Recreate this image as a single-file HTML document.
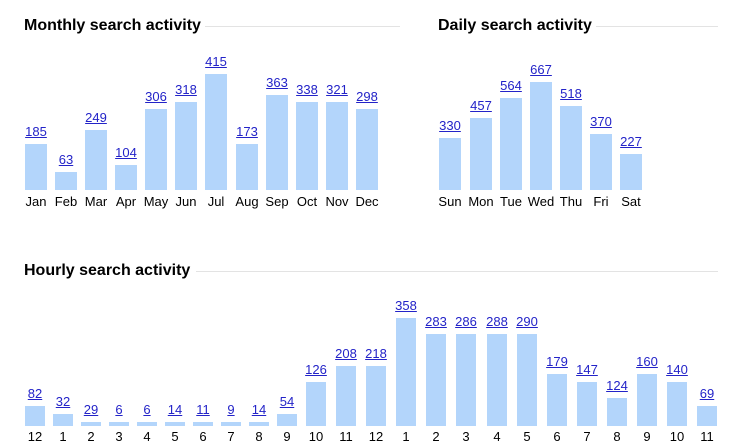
<!DOCTYPE html>
<html><head><meta charset="utf-8"><style>
body{margin:0;width:739px;height:446px;background:#fff;position:relative;overflow:hidden;font-family:"Liberation Sans",Arial,sans-serif}
.t{position:absolute;font-weight:bold;font-size:16px;line-height:16px;color:#000;white-space:nowrap}
.l{position:absolute;height:1px;background:#e3e3e3}
.b{position:absolute;background:#b3d5fb}
.v,.c{position:absolute;width:40px;text-align:center;font-size:13px;line-height:15px;white-space:nowrap}
.v{color:#2323c8}.v span{text-decoration:underline}
.c{color:#000}
</style></head><body>
<div class="t" style="left:24px;top:18px">Monthly search activity</div><div class="l" style="left:205px;width:195px;top:26px"></div>
<div class="t" style="left:438px;top:18px">Daily search activity</div><div class="l" style="left:596px;width:122px;top:26px"></div>
<div class="t" style="left:24px;top:263px">Hourly search activity</div><div class="l" style="left:196px;width:522px;top:271px"></div>

<!-- Monthly -->
<div class="b" style="left:25px;top:144px;width:22px;height:46px"></div><div class="v" style="left:16px;top:124px"><span>185</span></div><div class="c" style="left:16px;top:194px">Jan</div>
<div class="b" style="left:55px;top:172px;width:22px;height:18px"></div><div class="v" style="left:46px;top:152px"><span>63</span></div><div class="c" style="left:46px;top:194px">Feb</div>
<div class="b" style="left:85px;top:130px;width:22px;height:60px"></div><div class="v" style="left:76px;top:110px"><span>249</span></div><div class="c" style="left:76px;top:194px">Mar</div>
<div class="b" style="left:115px;top:165px;width:22px;height:25px"></div><div class="v" style="left:106px;top:145px"><span>104</span></div><div class="c" style="left:106px;top:194px">Apr</div>
<div class="b" style="left:145px;top:109px;width:22px;height:81px"></div><div class="v" style="left:136px;top:89px"><span>306</span></div><div class="c" style="left:136px;top:194px">May</div>
<div class="b" style="left:175px;top:102px;width:22px;height:88px"></div><div class="v" style="left:166px;top:82px"><span>318</span></div><div class="c" style="left:166px;top:194px">Jun</div>
<div class="b" style="left:205px;top:74px;width:22px;height:116px"></div><div class="v" style="left:196px;top:54px"><span>415</span></div><div class="c" style="left:196px;top:194px">Jul</div>
<div class="b" style="left:236px;top:144px;width:22px;height:46px"></div><div class="v" style="left:227px;top:124px"><span>173</span></div><div class="c" style="left:227px;top:194px">Aug</div>
<div class="b" style="left:266px;top:95px;width:22px;height:95px"></div><div class="v" style="left:257px;top:75px"><span>363</span></div><div class="c" style="left:257px;top:194px">Sep</div>
<div class="b" style="left:296px;top:102px;width:22px;height:88px"></div><div class="v" style="left:287px;top:82px"><span>338</span></div><div class="c" style="left:287px;top:194px">Oct</div>
<div class="b" style="left:326px;top:102px;width:22px;height:88px"></div><div class="v" style="left:317px;top:82px"><span>321</span></div><div class="c" style="left:317px;top:194px">Nov</div>
<div class="b" style="left:356px;top:109px;width:22px;height:81px"></div><div class="v" style="left:347px;top:89px"><span>298</span></div><div class="c" style="left:347px;top:194px">Dec</div>

<!-- Daily -->
<div class="b" style="left:439px;top:138px;width:22px;height:52px"></div><div class="v" style="left:430px;top:118px"><span>330</span></div><div class="c" style="left:430px;top:194px">Sun</div>
<div class="b" style="left:470px;top:118px;width:22px;height:72px"></div><div class="v" style="left:461px;top:98px"><span>457</span></div><div class="c" style="left:461px;top:194px">Mon</div>
<div class="b" style="left:500px;top:98px;width:22px;height:92px"></div><div class="v" style="left:491px;top:78px"><span>564</span></div><div class="c" style="left:491px;top:194px">Tue</div>
<div class="b" style="left:530px;top:82px;width:22px;height:108px"></div><div class="v" style="left:521px;top:62px"><span>667</span></div><div class="c" style="left:521px;top:194px">Wed</div>
<div class="b" style="left:560px;top:106px;width:22px;height:84px"></div><div class="v" style="left:551px;top:86px"><span>518</span></div><div class="c" style="left:551px;top:194px">Thu</div>
<div class="b" style="left:590px;top:134px;width:22px;height:56px"></div><div class="v" style="left:581px;top:114px"><span>370</span></div><div class="c" style="left:581px;top:194px">Fri</div>
<div class="b" style="left:620px;top:154px;width:22px;height:36px"></div><div class="v" style="left:611px;top:134px"><span>227</span></div><div class="c" style="left:611px;top:194px">Sat</div>

<!-- Hourly -->
<div class="b" style="left:25px;top:406px;width:20px;height:20px"></div><div class="v" style="left:15px;top:386px"><span>82</span></div><div class="c" style="left:15px;top:429px">12</div>
<div class="b" style="left:53px;top:414px;width:20px;height:12px"></div><div class="v" style="left:43px;top:394px"><span>32</span></div><div class="c" style="left:43px;top:429px">1</div>
<div class="b" style="left:81px;top:422px;width:20px;height:4px"></div><div class="v" style="left:71px;top:402px"><span>29</span></div><div class="c" style="left:71px;top:429px">2</div>
<div class="b" style="left:109px;top:422px;width:20px;height:4px"></div><div class="v" style="left:99px;top:402px"><span>6</span></div><div class="c" style="left:99px;top:429px">3</div>
<div class="b" style="left:137px;top:422px;width:20px;height:4px"></div><div class="v" style="left:127px;top:402px"><span>6</span></div><div class="c" style="left:127px;top:429px">4</div>
<div class="b" style="left:165px;top:422px;width:20px;height:4px"></div><div class="v" style="left:155px;top:402px"><span>14</span></div><div class="c" style="left:155px;top:429px">5</div>
<div class="b" style="left:193px;top:422px;width:20px;height:4px"></div><div class="v" style="left:183px;top:402px"><span>11</span></div><div class="c" style="left:183px;top:429px">6</div>
<div class="b" style="left:221px;top:422px;width:20px;height:4px"></div><div class="v" style="left:211px;top:402px"><span>9</span></div><div class="c" style="left:211px;top:429px">7</div>
<div class="b" style="left:249px;top:422px;width:20px;height:4px"></div><div class="v" style="left:239px;top:402px"><span>14</span></div><div class="c" style="left:239px;top:429px">8</div>
<div class="b" style="left:277px;top:414px;width:20px;height:12px"></div><div class="v" style="left:267px;top:394px"><span>54</span></div><div class="c" style="left:267px;top:429px">9</div>
<div class="b" style="left:306px;top:382px;width:20px;height:44px"></div><div class="v" style="left:296px;top:362px"><span>126</span></div><div class="c" style="left:296px;top:429px">10</div>
<div class="b" style="left:336px;top:366px;width:20px;height:60px"></div><div class="v" style="left:326px;top:346px"><span>208</span></div><div class="c" style="left:326px;top:429px">11</div>
<div class="b" style="left:366px;top:366px;width:20px;height:60px"></div><div class="v" style="left:356px;top:346px"><span>218</span></div><div class="c" style="left:356px;top:429px">12</div>
<div class="b" style="left:396px;top:318px;width:20px;height:108px"></div><div class="v" style="left:386px;top:298px"><span>358</span></div><div class="c" style="left:386px;top:429px">1</div>
<div class="b" style="left:426px;top:334px;width:20px;height:92px"></div><div class="v" style="left:416px;top:314px"><span>283</span></div><div class="c" style="left:416px;top:429px">2</div>
<div class="b" style="left:456px;top:334px;width:20px;height:92px"></div><div class="v" style="left:446px;top:314px"><span>286</span></div><div class="c" style="left:446px;top:429px">3</div>
<div class="b" style="left:487px;top:334px;width:20px;height:92px"></div><div class="v" style="left:477px;top:314px"><span>288</span></div><div class="c" style="left:477px;top:429px">4</div>
<div class="b" style="left:517px;top:334px;width:20px;height:92px"></div><div class="v" style="left:507px;top:314px"><span>290</span></div><div class="c" style="left:507px;top:429px">5</div>
<div class="b" style="left:547px;top:374px;width:20px;height:52px"></div><div class="v" style="left:537px;top:354px"><span>179</span></div><div class="c" style="left:537px;top:429px">6</div>
<div class="b" style="left:577px;top:382px;width:20px;height:44px"></div><div class="v" style="left:567px;top:362px"><span>147</span></div><div class="c" style="left:567px;top:429px">7</div>
<div class="b" style="left:607px;top:398px;width:20px;height:28px"></div><div class="v" style="left:597px;top:378px"><span>124</span></div><div class="c" style="left:597px;top:429px">8</div>
<div class="b" style="left:637px;top:374px;width:20px;height:52px"></div><div class="v" style="left:627px;top:354px"><span>160</span></div><div class="c" style="left:627px;top:429px">9</div>
<div class="b" style="left:667px;top:382px;width:20px;height:44px"></div><div class="v" style="left:657px;top:362px"><span>140</span></div><div class="c" style="left:657px;top:429px">10</div>
<div class="b" style="left:697px;top:406px;width:20px;height:20px"></div><div class="v" style="left:687px;top:386px"><span>69</span></div><div class="c" style="left:687px;top:429px">11</div>
</body></html>
